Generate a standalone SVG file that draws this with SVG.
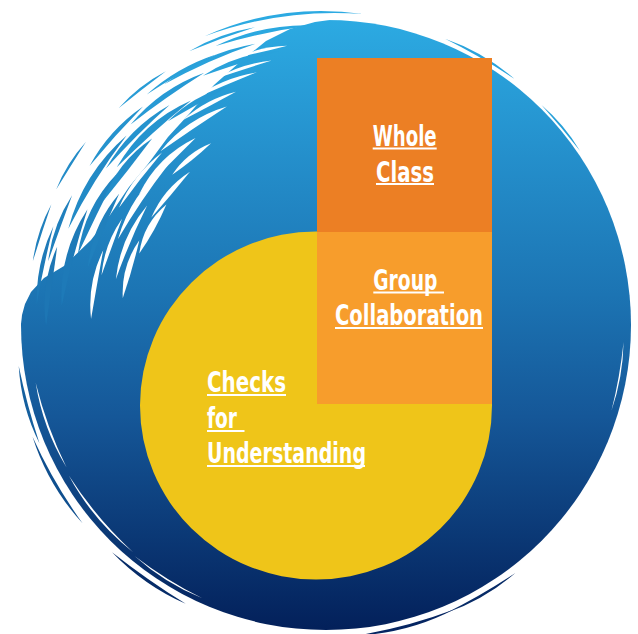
<svg xmlns="http://www.w3.org/2000/svg" width="638" height="634" viewBox="0 0 638 634">
<defs>
<linearGradient id="bg" x1="0" y1="0" x2="0" y2="1">
<stop offset="0" stop-color="#2caae2"/>
<stop offset="0.2" stop-color="#2592ce"/>
<stop offset="0.45" stop-color="#1c74b3"/>
<stop offset="0.65" stop-color="#155798"/>
<stop offset="1" stop-color="#03205a"/>
</linearGradient>
<style>
.w{fill:#fff}
.t{font-family:"Liberation Sans Narrow","DejaVu Sans Condensed","Liberation Sans",sans-serif;font-weight:bold;font-size:28px;fill:#fff}
.u{stroke:#fff;stroke-width:2}
</style>
</defs>
<rect width="638" height="634" fill="#fff"/>
<g id="brush">
<circle cx="326" cy="325" r="305" fill="url(#bg)"/>
<path class="w" d="M20,332 L22,315 L25,304 L31,292 L44,278 L64,266 L91,240 L110,215 L129,187 L148,164 L168,137 L189,114 L214,85 L240,62 L266,41 L290,29 L315,22 L337,19 L337,0 L0,0 L0,332 Z"/>
<!-- blue strands -->
<path fill="#1d76b4" transform="rotate(-82 326 325) translate(326 45)" d="M-40,2.9 Q0,-8.9 40,2.9 Q0,3.1 -40,2.9Z"/>
<path fill="#1e7ab8" transform="rotate(-75 326 325) translate(326 60)" d="M-50,4.7 Q0,-11.7 50,4.7 Q0,2.3 -50,4.7Z"/>
<path fill="#2080bd" transform="rotate(-70 326 325) translate(326 40)" d="M-35,2.1 Q0,-6.1 35,2.1 Q0,1.9 -35,2.1Z"/>
<path fill="#2185c2" transform="rotate(-64 326 325) translate(326 67)" d="M-45,3.9 Q0,-10.9 45,3.9 Q0,3.1 -45,3.9Z"/>
<path fill="#228ac6" transform="rotate(-58 326 325) translate(326 50)" d="M-55,5.5 Q0,-11.5 55,5.5 Q0,0.5 -55,5.5Z"/>
<path fill="#238dc9" transform="rotate(-52 326 325) translate(326 70)" d="M-40,3.1 Q0,-10.1 40,3.1 Q0,3.9 -40,3.1Z"/>
<path fill="#2593ce" transform="rotate(-48 326 325) translate(326 40)" d="M-40,2.8 Q0,-6.8 40,2.8 Q0,1.2 -40,2.8Z"/>
<path fill="#2594cf" transform="rotate(-42 326 325) translate(326 63)" d="M-50,4.8 Q0,-11.8 50,4.8 Q0,2.2 -50,4.8Z"/>
<path fill="#279ad5" transform="rotate(-35 326 325) translate(326 45)" d="M-45,3.6 Q0,-8.6 45,3.6 Q0,1.4 -45,3.6Z"/>
<path fill="#2799d4" transform="rotate(-30 326 325) translate(326 67)" d="M-35,2.4 Q0,-7.4 35,2.4 Q0,2.6 -35,2.4Z"/>
<path fill="#2aa2db" transform="rotate(-24 326 325) translate(326 35)" d="M-50,4.3 Q0,-8.3 50,4.3 Q0,-0.3 -50,4.3Z"/>
<path fill="#2aa2db" transform="rotate(-18 326 325) translate(326 47)" d="M-40,2.9 Q0,-7.9 40,2.9 Q0,2.1 -40,2.9Z"/>
<path fill="#2ba8e0" transform="rotate(-12 326 325) translate(326 25)" d="M-50,4.2 Q0,-8.2 50,4.2 Q0,-0.2 -50,4.2Z"/>
<path fill="#2caae2" transform="rotate(-8 326 325) translate(326 12)" d="M-80,10.2 Q0,-13.2 80,10.2 Q0,-7.2 -80,10.2Z"/>
<path fill="#2ba7df" transform="rotate(-20 326 325) translate(326 19)" d="M-35,2 Q0,-4.5 35,2 Q0,0.5 -35,2Z"/>
<path fill="#289cd6" transform="rotate(-38 326 325) translate(326 25)" d="M-30,1.5 Q0,-4 30,1.5 Q0,1 -30,1.5Z"/>
<path fill="#238cc8" transform="rotate(-58 326 325) translate(326 23)" d="M-28,1.3 Q0,-3.8 28,1.3 Q0,1.2 -28,1.3Z"/>
<path fill="#2080bd" transform="rotate(-72 326 325) translate(326 25)" d="M-30,1.5 Q0,-4 30,1.5 Q0,1 -30,1.5Z"/>
<path fill="#2080bd" transform="rotate(-67 326 325) translate(326 80)" d="M-40,3.3 Q0,-9.3 40,3.3 Q0,2.7 -40,3.3Z"/>
<path fill="#2593ce" transform="rotate(-45 326 325) translate(326 55)" d="M-45,3.8 Q0,-8.8 45,3.8 Q0,1.2 -45,3.8Z"/>
<path fill="#1e7ab8" transform="rotate(-78 326 325) translate(326 35)" d="M-40,2.8 Q0,-6.8 40,2.8 Q0,1.2 -40,2.8Z"/>
<path fill="#29a0d9" transform="rotate(-30 326 325) translate(326 33)" d="M-40,2.7 Q0,-5.7 40,2.7 Q0,0.3 -40,2.7Z"/>
<!-- white streaks feathering inner edge -->
<path class="w" transform="rotate(-74 326 325) translate(326 120)" d="M-30,2.2 Q0,-8.2 30,2.2 Q0,3.8 -30,2.2Z"/>
<path class="w" transform="rotate(-67 326 325) translate(326 110)" d="M-40,3.7 Q0,-8.7 40,3.7 Q0,1.3 -40,3.7Z"/>
<path class="w" transform="rotate(-61 326 325) translate(326 125)" d="M-28,2 Q0,-9 28,2 Q0,5 -28,2Z"/>
<path class="w" transform="rotate(-56 326 325) translate(326 100)" d="M-45,4.5 Q0,-10.5 45,4.5 Q0,1.5 -45,4.5Z"/>
<path class="w" transform="rotate(-50 326 325) translate(326 120)" d="M-30,2.2 Q0,-7.2 30,2.2 Q0,2.8 -30,2.2Z"/>
<path class="w" transform="rotate(-45 326 325) translate(326 97)" d="M-40,3.5 Q0,-10.5 40,3.5 Q0,3.5 -40,3.5Z"/>
<path class="w" transform="rotate(-39 326 325) translate(326 110)" d="M-25,1.5 Q0,-6.5 25,1.5 Q0,3.5 -25,1.5Z"/>
<path class="w" transform="rotate(-34 326 325) translate(326 85)" d="M-40,3.3 Q0,-9.3 40,3.3 Q0,2.7 -40,3.3Z"/>
<path class="w" transform="rotate(-28 326 325) translate(326 75)" d="M-30,1.8 Q0,-5.8 30,1.8 Q0,2.2 -30,1.8Z"/>
<path class="w" transform="rotate(-23 326 325) translate(326 63)" d="M-35,2.3 Q0,-6.3 35,2.3 Q0,1.7 -35,2.3Z"/>
<path class="w" transform="rotate(-18 326 325) translate(326 55)" d="M-30,1.7 Q0,-4.7 30,1.7 Q0,1.3 -30,1.7Z"/>
<path class="w" transform="rotate(-13 326 325) translate(326 43)" d="M-25,1.1 Q0,-4.1 25,1.1 Q0,1.9 -25,1.1Z"/>
<path class="w" transform="rotate(-80 326 325) translate(326 90)" d="M-35,2.6 Q0,-7.6 35,2.6 Q0,2.4 -35,2.6Z"/>
<path class="w" transform="rotate(-70 326 325) translate(326 95)" d="M-30,2 Q0,-6 30,2 Q0,2 -30,2Z"/>
<path class="w" transform="rotate(-52 326 325) translate(326 87)" d="M-35,2.6 Q0,-6.6 35,2.6 Q0,1.4 -35,2.6Z"/>
<!-- outer blue flecks -->
<path fill="#0f4f8f" transform="rotate(-120 326 325) translate(326 11)" d="M-50,4 Q0,-7 50,4 Q0,-1 -50,4Z"/>
<path fill="#155f9e" transform="rotate(-105 326 325) translate(326 15)" d="M-40,2.6 Q0,-5.6 40,2.6 Q0,0.4 -40,2.6Z"/>
<path fill="#062c68" transform="rotate(-145 326 325) translate(326 13)" d="M-45,3.2 Q0,-5.7 45,3.2 Q0,0.7 -45,3.2Z"/>
<path fill="#052562" transform="rotate(-195 326 325) translate(326 13)" d="M-50,4 Q0,-7 50,4 Q0,-1 -50,4Z"/>
<path fill="#072b67" transform="rotate(-210 326 325) translate(326 13)" d="M-40,2.6 Q0,-5.1 40,2.6 Q0,0.1 -40,2.6Z"/>
<path fill="#29a3dc" transform="rotate(30 326 325) translate(326 15)" d="M-40,2.6 Q0,-5.1 40,2.6 Q0,0.1 -40,2.6Z"/>
<path fill="#27a0d9" transform="rotate(50 326 325) translate(326 17)" d="M-30,1.5 Q0,-3.5 30,1.5 Q0,0.5 -30,1.5Z"/>
<!-- thin white lines near edge -->
<path class="w" transform="rotate(-110 326 325) translate(326 29)" d="M-45,3.4 Q0,-5.4 45,3.4 Q0,-1.4 -45,3.4Z"/>
<path class="w" transform="rotate(-130 326 325) translate(326 27)" d="M-50,4.2 Q0,-6.2 50,4.2 Q0,-2.2 -50,4.2Z"/>
<path class="w" transform="rotate(-148 326 325) translate(326 25)" d="M-40,2.7 Q0,-4.3 40,2.7 Q0,-1.1 -40,2.7Z"/>
<path class="w" transform="rotate(-260 326 325) translate(326 27)" d="M-35,2 Q0,-3.5 35,2 Q0,-0.5 -35,2Z"/>
</g>
<g id="connectors"/>
<g id="checks">
<path fill="#efc519" d="M316,231.5 A176,174 0 0 0 140,405.5 A176,174 0 0 0 316,579.5 A176,174 0 0 0 492,405.5 L492,231.5 Z"/>
<text class="t" x="207" y="392" textLength="79" lengthAdjust="spacingAndGlyphs">Checks</text>
<line class="u" x1="207" y1="395" x2="286" y2="395"/>
<text class="t" x="207" y="428" textLength="30" lengthAdjust="spacingAndGlyphs">for</text>
<line class="u" x1="207" y1="431" x2="244.5" y2="431"/>
<text class="t" x="207" y="463" textLength="159" lengthAdjust="spacingAndGlyphs">Understanding</text>
<line class="u" x1="207" y1="466" x2="365" y2="466"/>
</g>
<g id="whole-class">
<rect x="317" y="58" width="175" height="174" fill="#ec7f24"/>
<text class="t" x="372.7" y="145.5" textLength="64" lengthAdjust="spacingAndGlyphs">Whole</text>
<line class="u" x1="372.7" y1="148.5" x2="436.7" y2="148.5"/>
<text class="t" x="376" y="181.5" textLength="58" lengthAdjust="spacingAndGlyphs">Class</text>
<line class="u" x1="376" y1="184" x2="434" y2="184"/>
</g>
<g id="group-collaboration">
<rect x="317" y="232" width="175" height="172" fill="#f79d2c"/>
<text class="t" x="373.3" y="290" textLength="64" lengthAdjust="spacingAndGlyphs">Group</text>
<line class="u" x1="373.3" y1="292.5" x2="444" y2="292.5"/>
<text class="t" x="335" y="325" textLength="148" lengthAdjust="spacingAndGlyphs">Collaboration</text>
<line class="u" x1="335" y1="328" x2="483" y2="328"/>
</g>
</svg>
